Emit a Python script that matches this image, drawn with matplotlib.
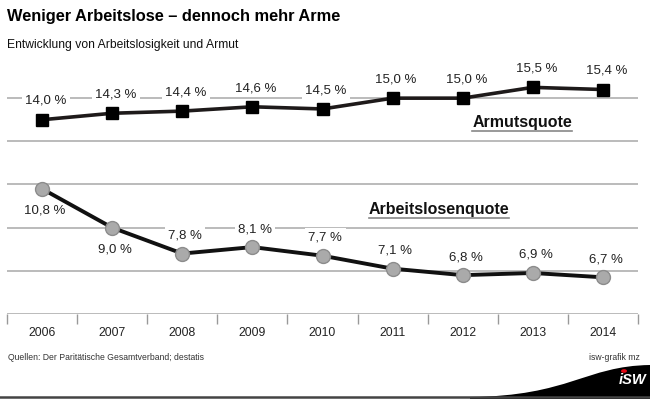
import matplotlib
matplotlib.use("Agg")
import matplotlib.pyplot as plt
from matplotlib.path import Path
from matplotlib.patches import PathPatch, Circle
from matplotlib.lines import Line2D

# data
years = ["2006", "2007", "2008", "2009", "2010", "2011", "2012", "2013", "2014"]
armut = [14.0, 14.3, 14.4, 14.6, 14.5, 15.0, 15.0, 15.5, 15.4]
arbeitslos = [10.8, 9.0, 7.8, 8.1, 7.7, 7.1, 6.8, 6.9, 6.7]
arbeitslos_below = [True, True, False, False, False, False, False, False, False]
gridlines = [7, 9, 11, 13, 15]

W, H = 650, 399
fig = plt.figure(figsize=(W / 100, H / 100), dpi=100)
fig.patch.set_facecolor("white")

def fx(px):
    return px / W

def fy(py):
    return 1 - py / H

sans = ["Liberation Sans", "DejaVu Sans"]

# plot area: x 7..638 px, y=5 at 314 px, y=16.8 at ~59 px
ax = fig.add_axes([fx(7), fy(314), fx(638) - fx(7), fy(59.3) - fy(314)])
ax.set_xlim(-0.5, len(years) - 0.5)
ax.set_ylim(5, 16.8)
for s in ax.spines.values():
    s.set_visible(False)
ax.set_yticks([])

for g in gridlines:
    ax.axhline(g, color="#a8a8a8", lw=1.1, zorder=1)
ax.axhline(5, color="#a8a8a8", lw=1.1, zorder=1)

x = list(range(len(years)))
ax.set_xticks(x)
ax.set_xticklabels(years, fontsize=8.7, family=sans, color="#222222")
ax.tick_params(axis="x", which="major", length=0, pad=9)
ax.set_xticks([i - 0.5 for i in range(len(years) + 1)], minor=True)
ax.tick_params(axis="x", which="minor", length=7, width=1, color="#999999", direction="out")

ax.plot(x, armut, color="#1e1a1a", lw=2.6, marker="s", ms=8,
        mfc="#000000", mec="#000000", zorder=5)
ax.plot(x, arbeitslos, color="#111111", lw=2.8, marker="o", ms=10,
        mfc="#aaaaaa", mec="#8c8c8c", mew=1, zorder=5)

bbox = dict(boxstyle="square,pad=0.25", fc="white", ec="none")

def fmt(v):
    return f"{v:.1f} %".replace(".", ",")

for i, v in enumerate(armut):
    ax.annotate(fmt(v), (i, v), xytext=(2.5, 13.5), textcoords="offset points",
                ha="center", va="center", fontsize=9.5, family=sans,
                color="#222222", bbox=bbox, zorder=3)

for i, v in enumerate(arbeitslos):
    dy = -15.5 if arbeitslos_below[i] else 13
    ax.annotate(fmt(v), (i, v), xytext=(2, dy), textcoords="offset points",
                ha="center", va="center", fontsize=9.5, family=sans,
                color="#222222", bbox=bbox, zorder=3)

# series names, underlined
t1 = ax.text(6.85, 13.88, "Armutsquote", ha="center", va="center",
             fontsize=11.5, fontweight="bold", family=sans, color="#111111", zorder=6)
t2 = ax.text(5.66, 9.84, "Arbeitslosenquote", ha="center", va="center",
             fontsize=11.5, fontweight="bold", family=sans, color="#111111", zorder=6)

# title, subtitle, footer
fig.text(fx(7), fy(17), "Weniger Arbeitslose \u2013 dennoch mehr Arme", ha="left", va="center",
         fontsize=11.8, fontweight="bold", family=sans, color="#000000")
fig.text(fx(7), fy(45), "Entwicklung von Arbeitslosigkeit und Armut", ha="left", va="center",
         fontsize=8.7, family=sans, color="#111111")
fig.text(fx(8), fy(357), "Quellen: Der Parit\u00e4tische Gesamtverband; destatis", ha="left",
         va="center", fontsize=6.2, family=sans, color="#333333")
fig.text(fx(640), fy(357), "isw-grafik mz", ha="right", va="center",
         fontsize=6.2, family=sans, color="#333333")

# logo swoosh
verts = [(fx(470), fy(397)), (fx(570), fy(396)), (fx(585), fy(366)), (fx(650), fy(365)),
         (fx(650), fy(399)), (fx(470), fy(399)), (fx(470), fy(397))]
codes = [Path.MOVETO, Path.CURVE4, Path.CURVE4, Path.CURVE4,
         Path.LINETO, Path.LINETO, Path.CLOSEPOLY]
fig.patches.append(PathPatch(Path(verts, codes), transform=fig.transFigure,
                             fc="black", ec="none"))
fig.lines.append(Line2D([0, 1], [fy(396.5), fy(396.5)], transform=fig.transFigure,
                        color="#444444", lw=1.8))
fig.text(fx(646), fy(380), "iSW", ha="right", va="center", fontsize=10.5,
         fontweight="bold", style="italic", family=sans, color="white")
fig.patches.append(Circle((fx(624), fy(371)), 3 / W, transform=fig.transFigure,
                          fc="#e30613", ec="none"))

fig.canvas.draw()
r = fig.canvas.get_renderer()
for t in (t1, t2):
    bb = t.get_window_extent(r)
    y = (bb.y0 - 1) / fig.bbox.height
    fig.lines.append(Line2D([bb.x0 / fig.bbox.width, bb.x1 / fig.bbox.width], [y, y],
                            transform=fig.transFigure, color="#888888", lw=1.2))

fig.savefig("out.png", dpi=100, facecolor="white")
